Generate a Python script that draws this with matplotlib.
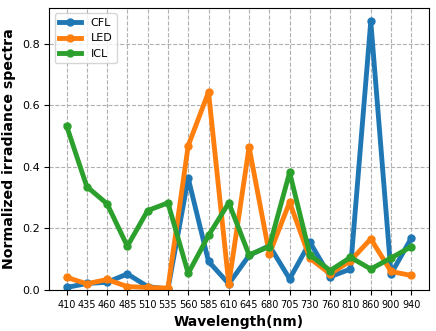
import matplotlib
matplotlib.use('Agg')
import matplotlib.pyplot as plt

# Wavelength categories (nm)
wavelengths = ['410', '435', '460', '485', '510', '535', '560', '585', '610',
               '645', '680', '705', '730', '760', '810', '860', '900', '940']

# Normalized spectra
cfl = [0.008, 0.021, 0.025, 0.052, 0.011, 0.003, 0.363, 0.093, 0.020,
       0.112, 0.144, 0.036, 0.155, 0.043, 0.068, 0.873, 0.052, 0.169]
led = [0.041, 0.020, 0.034, 0.011, 0.008, 0.006, 0.469, 0.643, 0.020,
       0.464, 0.117, 0.285, 0.103, 0.052, 0.095, 0.166, 0.060, 0.047]
icl = [0.534, 0.336, 0.280, 0.142, 0.258, 0.283, 0.054, 0.177, 0.283,
       0.114, 0.141, 0.382, 0.114, 0.063, 0.106, 0.068, 0.104, 0.141]

fig, ax = plt.subplots(figsize=(4.36, 3.31), dpi=100)

x = range(len(wavelengths))
ax.plot(x, cfl, marker='o', markersize=5, linewidth=3.5, label='CFL')
ax.plot(x, led, marker='o', markersize=5, linewidth=3.5, label='LED')
ax.plot(x, icl, marker='o', markersize=5, linewidth=3.5, label='ICL')

ax.set_xticks(list(x))
ax.set_xticklabels(wavelengths, fontsize=7)
ax.tick_params(axis='y', labelsize=8)
ax.set_ylim(bottom=0)

ax.grid(True, linestyle='--', color='#b0b0b0', linewidth=0.8)
ax.set_xlabel('Wavelength(nm)', fontsize=10, fontweight='bold')
ax.set_ylabel('Normalized irradiance spectra', fontsize=10.2, fontweight='bold')
ax.legend(loc='upper left', fontsize=8)

plt.subplots_adjust(left=0.113, right=0.983, top=0.976, bottom=0.124)
plt.savefig('out.png', dpi=100)
plt.close()
